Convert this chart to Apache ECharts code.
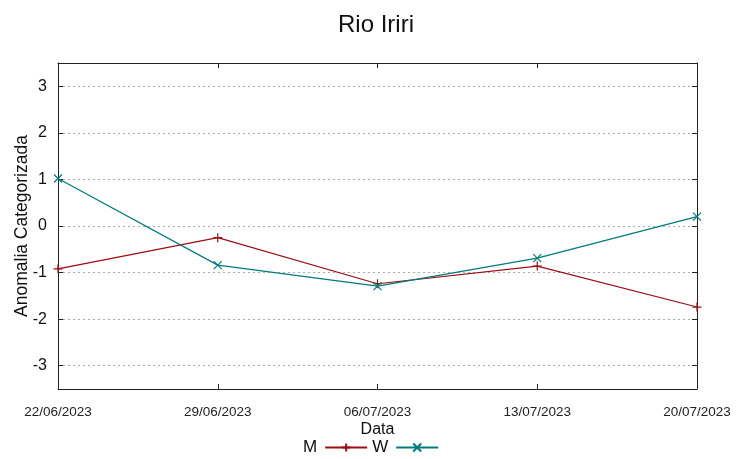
<!DOCTYPE html>
<html>
<head>
<meta charset="utf-8">
<script src="https://cdn.jsdelivr.net/npm/echarts@6/dist/echarts.min.js"></script>
<style>
html,body{margin:0;padding:0;background:#fff;}
#chart{width:752px;height:459px;}
</style>
</head>
<body>
<div id="chart"></div>
<script>
var categories = ['22/06/2023', '29/06/2023', '06/07/2023', '13/07/2023', '20/07/2023'];
var seriesM = [-0.92, -0.25, -1.24, -0.86, -1.74];
var seriesW = [1.02, -0.84, -1.29, -0.69, 0.20];
var yTicks = [-3, -2, -1, 0, 1, 2, 3];

var FONT = '"Liberation Sans", Arial, sans-serif';
var plusPath = 'path://M5,0L5,10M0,5L10,5';
var crossPath = 'path://M0,0L10,10M10,0L0,10';

var chart = echarts.init(document.getElementById('chart'), null, {renderer: 'canvas'});
chart.setOption({
  animation: false,
  backgroundColor: '#ffffff',
  title: {
    text: 'Rio Iriri',
    left: 'center',
    top: 8,
    textStyle: {fontFamily: FONT, fontSize: 24, fontWeight: 'normal', color: '#111'}
  },
  legend: {
    left: 298,
    top: 434,
    align: 'right',
    itemWidth: 42,
    itemHeight: 10,
    itemGap: 4,
    textStyle: {fontFamily: FONT, fontSize: 17, color: '#111', padding: [0, 3, 0, 0]},
    data: ['M', 'W']
  },
  grid: {left: 58, right: 55, top: 63, bottom: 70, containLabel: false, outerBoundsMode: 'none'},
  xAxis: [{
    type: 'category',
    data: categories,
    boundaryGap: false,
    name: 'Data',
    nameLocation: 'middle',
    nameGap: 33,
    nameMoveOverlap: false,
    nameTextStyle: {fontFamily: FONT, fontSize: 16, color: '#111'},
    axisLine: {show: true, onZero: false, lineStyle: {color: '#222', width: 1}},
    axisTick: {show: true, inside: true, length: 5, alignWithLabel: true, lineStyle: {color: '#222'}},
    axisLabel: {fontFamily: FONT, fontSize: 13.5, color: '#222', margin: 16, showMinLabel: true, showMaxLabel: true, interval: 0},
    splitLine: {show: false}
  }, {
    type: 'category',
    data: categories,
    boundaryGap: false,
    position: 'top',
    axisLine: {show: true, onZero: false, lineStyle: {color: '#222', width: 1}},
    axisTick: {show: true, inside: true, length: 5, alignWithLabel: true, lineStyle: {color: '#222'}},
    axisLabel: {show: false},
    splitLine: {show: false}
  }],
  yAxis: [{
    type: 'value',
    min: -3.5,
    max: 3.5,
    interval: 1,
    name: 'Anomalia Categorizada',
    nameLocation: 'middle',
    nameGap: 27,
    nameMoveOverlap: false,
    nameRotate: 90,
    nameTextStyle: {fontFamily: FONT, fontSize: 17.5, color: '#111'},
    axisLine: {show: true, onZero: false, lineStyle: {color: '#222', width: 1}},
    axisTick: {show: true, inside: true, length: 5, lineStyle: {color: '#222'}, customValues: yTicks},
    axisLabel: {fontFamily: FONT, fontSize: 16, color: '#111', margin: 11, customValues: yTicks},
    splitLine: {show: true, lineStyle: {color: '#aaa', width: 1, type: [2, 3]}}
  }, {
    type: 'value',
    min: -3.5,
    max: 3.5,
    interval: 1,
    position: 'right',
    axisLine: {show: true, onZero: false, lineStyle: {color: '#222', width: 1}},
    axisTick: {show: true, inside: true, length: 5, lineStyle: {color: '#222'}, customValues: yTicks},
    axisLabel: {show: false},
    splitLine: {show: false}
  }],
  series: [{
    name: 'M',
    type: 'line',
    data: seriesM,
    symbol: plusPath,
    symbolSize: 9,
    showAllSymbol: true,
    lineStyle: {color: '#9b0d16', width: 1.2},
    itemStyle: {color: '#9b0d16', borderColor: '#9b0d16', borderWidth: 1.2}
  }, {
    name: 'W',
    type: 'line',
    data: seriesW,
    symbol: crossPath,
    symbolSize: 8,
    showAllSymbol: true,
    lineStyle: {color: '#007a7a', width: 1.2},
    itemStyle: {color: '#007a7a', borderColor: '#007a7a', borderWidth: 1.2}
  }]
});
</script>
</body>
</html>
